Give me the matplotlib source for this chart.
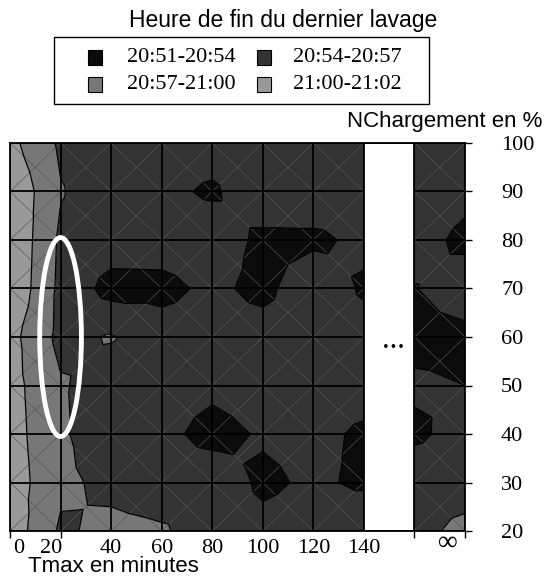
import numpy as np
import matplotlib
matplotlib.use("Agg")
import matplotlib.pyplot as plt
import matplotlib.tri as mtri
from matplotlib.patches import Rectangle, Ellipse

# ---------------- data ----------------
# x node positions: 0..140 minutes, 140-160 = hidden gap, 160-180 = "infinity" column
x_nodes = [0, 20, 40, 60, 80, 100, 120, 140, 160, 180]
y_nodes = [20, 30, 40, 50, 60, 70, 80, 90, 100]
x_tick_labels = ["0", "20", "40", "60", "80", "100", "120", "140"]
x_tick_pos = [3.4, 16.2, 40, 60, 80, 100, 120, 140]
inf_label_pos = 173.3
y_tick_labels = ["20", "30", "40", "50", "60", "70", "80", "90", "100"]

# finish time of last wash, in minutes after 20:00 (one list per NChargement row)
z_y20 = [61.8, 56.6, 57.7, 57.3, 55.6, 55.1, 55.6, 57.1, 56.1, 57.8]
z_y30 = [61.6, 57.6, 56.3, 55.6, 56.4, 53.3, 54.6, 53.4, 55.6, 55.6]
z_y40 = [61.3, 57.4, 55.2, 55.0, 52.8, 54.4, 55.0, 53.4, 53.5, 55.0]
z_y50 = [61.1, 57.3, 55.6, 55.6, 54.8, 55.6, 55.6, 55.6, 54.4, 54.0]
z_y60 = [61.0, 56.2, 57.2, 55.6, 55.6, 55.6, 55.6, 55.6, 53.3, 53.3]
z_y70 = [62.6, 56.3, 52.9, 53.0, 54.8, 53.0, 56.5, 53.5, 53.9, 55.4]
z_y80 = [62.8, 56.5, 55.6, 55.6, 56.0, 53.2, 53.3, 54.8, 55.0, 53.4]
z_y90 = [62.6, 57.2, 55.0, 54.8, 53.5, 56.4, 56.2, 55.6, 55.6, 54.7]
z_y100 = [60.85, 56.5, 55.6, 55.6, 55.6, 55.6, 55.6, 55.6, 55.6, 55.6]

level_bounds = [50, 54, 57, 60, 64]
level_labels = ["20:51-20:54", "20:54-20:57", "20:57-21:00", "21:00-21:02"]
level_colors = ["#0b0b0b", "#333333", "#777777", "#999999"]

# ---------------- figure ----------------
W, H = 544, 580
fig = plt.figure(figsize=(W / 100, H / 100), dpi=100)
SERIF = ["Liberation Serif", "DejaVu Serif"]
SANS = ["Liberation Sans", "DejaVu Sans"]

def fx(px):
    return px / W

def fy(py):
    return 1 - py / H

ax = fig.add_axes([fx(10), fy(531), (465 - 10) / W, (531 - 143) / H])

Z = np.array([z_y20, z_y30, z_y40, z_y50, z_y60, z_y70, z_y80, z_y90, z_y100])
X, Y = np.meshgrid(x_nodes, y_nodes)
nx, ny = len(x_nodes), len(y_nodes)

# Excel-like triangulation: each cell split in 4 triangles around its centre
px_ = list(X.ravel().astype(float))
py_ = list(Y.ravel().astype(float))
pz_ = list(Z.ravel())
tris = []
for j in range(ny - 1):
    for i in range(nx - 1):
        a = j * nx + i
        b = a + 1
        c = a + nx + 1
        d = a + nx
        px_.append((x_nodes[i] + x_nodes[i + 1]) / 2)
        py_.append((y_nodes[j] + y_nodes[j + 1]) / 2)
        pz_.append((Z[j, i] + Z[j, i + 1] + Z[j + 1, i] + Z[j + 1, i + 1]) / 4)
        m = len(px_) - 1
        tris += [[a, b, m], [b, c, m], [c, d, m], [d, a, m]]
tri = mtri.Triangulation(px_, py_, tris)

ax.tricontourf(tri, pz_, levels=level_bounds, colors=level_colors, zorder=1)

# faint diagonals of each cell
for j in range(ny - 1):
    for i in range(nx - 1):
        ax.plot([x_nodes[i], x_nodes[i + 1]], [y_nodes[j], y_nodes[j + 1]],
                color="#555555", lw=0.45, zorder=2)
        ax.plot([x_nodes[i], x_nodes[i + 1]], [y_nodes[j + 1], y_nodes[j]],
                color="#555555", lw=0.45, zorder=2)

ax.tricontour(tri, pz_, levels=level_bounds[1:-1], colors="black",
              linewidths=0.9, zorder=3)

for xv in x_nodes:
    ax.axvline(xv, color="black", lw=1.3, zorder=4)
for yv in y_nodes:
    ax.axhline(yv, color="black", lw=1.3, zorder=4)

# white gap between 140 and infinity
ax.add_patch(Rectangle((140, 20), 20, 80, facecolor="white",
                       edgecolor="black", lw=1.3, zorder=5))
ax.text(151.5, 59.3, "...", ha="center", va="center", fontsize=22,
        family=SERIF, zorder=6)

# highlighted zone
ax.add_patch(Ellipse((20, 60), 16.5, 41, facecolor="none",
                     edgecolor="white", lw=3.5, zorder=7))

ax.set_xlim(0, 180)
ax.set_ylim(20, 100)
for s in ax.spines.values():
    s.set_linewidth(1.3)
    s.set_zorder(8)

ax.set_xticks(x_nodes, minor=True)
ax.set_xticks(x_tick_pos)
ax.set_xticklabels(x_tick_labels, family=SERIF, fontsize=16)
ax.tick_params(axis="x", which="minor", length=5, width=1, direction="out")
ax.tick_params(axis="x", which="major", length=0, pad=6)
ax.text(inf_label_pos, 20, "\u221e", transform=ax.transData, ha="center",
        va="top", fontsize=20, family=SERIF)

ax.yaxis.tick_right()
ax.set_yticks(y_nodes)
ax.set_yticklabels(y_tick_labels, family=SERIF, fontsize=16)
ax.tick_params(axis="y", which="major", length=5, width=1, direction="out", pad=21)

# texts
fig.text(fx(283), fy(20), "Heure de fin du dernier lavage", ha="center",
         va="center", fontsize=16.5, family=SANS)
fig.text(fx(542), fy(122), "NChargement en %", ha="right", va="center",
         fontsize=16, family=SANS)
fig.text(fx(28), fy(567), "Tmax en minutes", ha="left", va="center",
         fontsize=16, family=SANS)

# legend (manual, 2 columns)
fig.patches.append(Rectangle((fx(54), fy(104)), (429 - 54) / W, (104 - 37) / H,
                             transform=fig.transFigure, facecolor="white",
                             edgecolor="black", lw=1.0))
col_sq = [88, 257]
col_tx = [127, 293]
row_y = [57.5, 84.5]
for k in range(len(level_labels)):
    r, c = divmod(k, 2)
    fig.patches.append(Rectangle((fx(col_sq[c]), fy(row_y[r] + 7)), 14 / W, 14 / H,
                                 transform=fig.transFigure,
                                 facecolor=level_colors[k], edgecolor="black",
                                 lw=0.8))
    fig.text(fx(col_tx[c]), fy(row_y[r]), level_labels[k], ha="left",
             va="center", fontsize=16, family=SERIF)

fig.savefig("out.png", dpi=100)
